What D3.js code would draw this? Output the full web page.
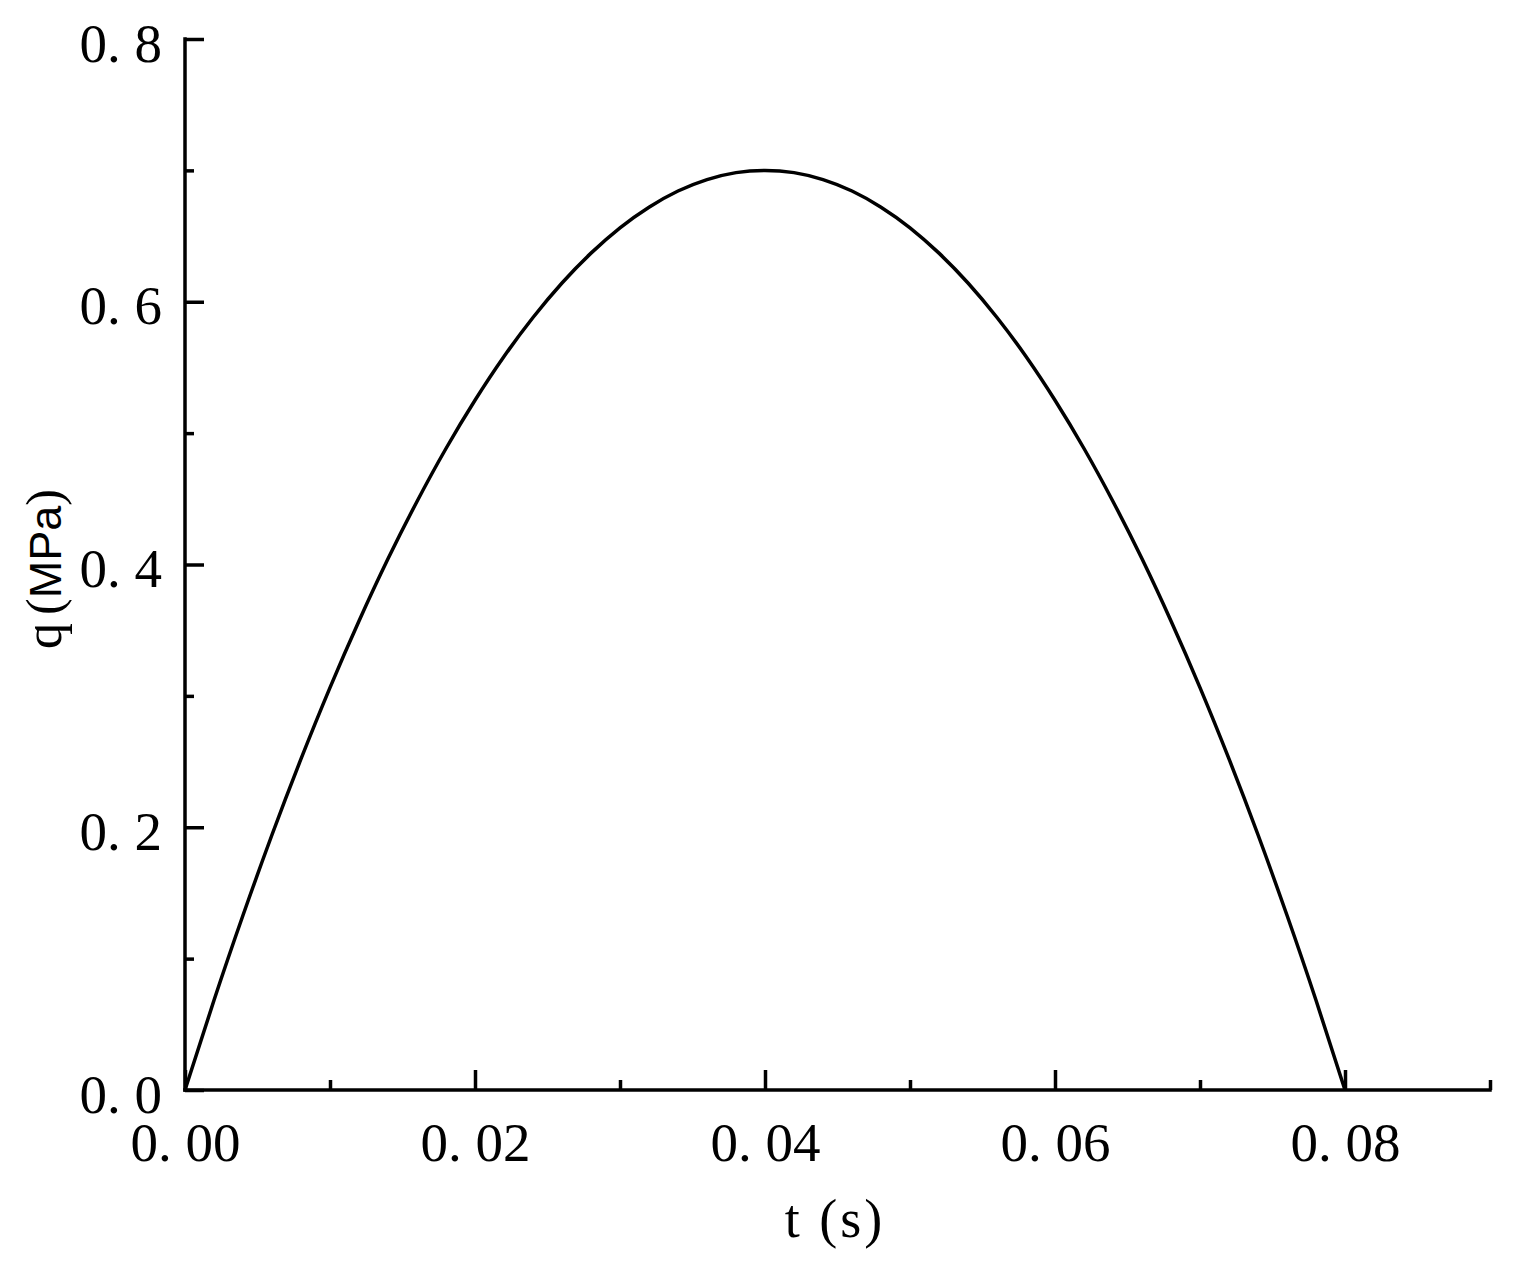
<!DOCTYPE html>
<html>
<head>
<meta charset="utf-8">
<script src="https://cdn.jsdelivr.net/npm/d3@7"></script>
<style>
  html, body { margin: 0; padding: 0; background: #fff; }
  svg { display: block; }
</style>
</head>
<body>
<svg id="chart" width="1518" height="1264"></svg>
<script>
// ---- data ----
const tValues = [0.000, 0.002, 0.004, 0.006, 0.008, 0.010, 0.012, 0.014, 0.016, 0.018,
                 0.020, 0.022, 0.024, 0.026, 0.028, 0.030, 0.032, 0.034, 0.036, 0.038,
                 0.040, 0.042, 0.044, 0.046, 0.048, 0.050, 0.052, 0.054, 0.056, 0.058,
                 0.060, 0.062, 0.064, 0.066, 0.068, 0.070, 0.072, 0.074, 0.076, 0.078, 0.080];
const qValues = [0.0000, 0.0683, 0.1330, 0.1943, 0.2520, 0.3063, 0.3570, 0.4043, 0.4480, 0.4883,
                 0.5250, 0.5583, 0.5880, 0.6143, 0.6370, 0.6563, 0.6720, 0.6843, 0.6930, 0.6983,
                 0.7000, 0.6983, 0.6930, 0.6843, 0.6720, 0.6563, 0.6370, 0.6143, 0.5880, 0.5583,
                 0.5250, 0.4883, 0.4480, 0.4043, 0.3570, 0.3063, 0.2520, 0.1943, 0.1330, 0.0683, 0.0000];
const xMajorTicks = [0.00, 0.02, 0.04, 0.06, 0.08];
const xMinorTicks = [0.01, 0.03, 0.05, 0.07, 0.09];
const yMajorTicks = [0.0, 0.2, 0.4, 0.6, 0.8];
const yMinorTicks = [0.1, 0.3, 0.5, 0.7];
const xTitle = "t (s)";
const yTitleParts = ["q", "(", "MPa", ")"];

// ---- layout ----
const svg = d3.select("#chart");
const mLeft = 185, mRight = 1490, mTop = 39, mBottom = 1090;
const x = d3.scaleLinear().domain([0, 0.09]).range([mLeft, mRight]);
const y = d3.scaleLinear().domain([0, 0.8]).range([mBottom, mTop]);
const lw = 3.5;

const serif = "'Liberation Serif', 'Times New Roman', serif";
const fmtX = v => d3.format(".2f")(v).replace(".", ". ");
const fmtY = v => d3.format(".1f")(v).replace(".", ". ");

// curve
const data = tValues.map((t, i) => ({ t, q: qValues[i] }));
svg.append("path")
  .datum(data)
  .attr("fill", "none")
  .attr("stroke", "#000")
  .attr("stroke-width", lw)
  .attr("stroke-linejoin", "round")
  .attr("d", d3.line().x(d => x(d.t)).y(d => y(d.q)).curve(d3.curveNatural));

// x axis: major ticks (inward / up)
const xAxisMajor = d3.axisBottom(x).tickValues(xMajorTicks).tickSize(-20).tickSizeOuter(0)
  .tickFormat(fmtX).tickPadding(0);
const gx = svg.append("g").attr("transform", `translate(0,${mBottom})`).call(xAxisMajor);
gx.select(".domain").attr("stroke", "#000").attr("stroke-width", lw)
  .attr("d", `M${mLeft - 1.75},0H${mRight + 1.75}`);
gx.selectAll(".tick line").attr("stroke", "#000").attr("stroke-width", lw);
gx.selectAll(".tick text")
  .attr("fill", "#000")
  .attr("y", 71).attr("dy", 0)
  .style("font-family", serif).style("font-size", "55px")
  .attr("text-anchor", "middle");

const xAxisMinor = d3.axisBottom(x).tickValues(xMinorTicks).tickSize(-10).tickFormat("");
const gxm = svg.append("g").attr("transform", `translate(0,${mBottom})`).call(xAxisMinor);
gxm.select(".domain").remove();
gxm.selectAll(".tick line").attr("stroke", "#000").attr("stroke-width", lw);

// y axis
const yAxisMajor = d3.axisLeft(y).tickValues(yMajorTicks).tickSize(-19).tickSizeOuter(0)
  .tickFormat(fmtY).tickPadding(0);
const gy = svg.append("g").attr("transform", `translate(${mLeft},0)`).call(yAxisMajor);
gy.select(".domain").attr("stroke", "#000").attr("stroke-width", lw)
  .attr("d", `M0,${mTop - 1.75}V${mBottom + 1.75}`);
gy.selectAll(".tick line").attr("stroke", "#000").attr("stroke-width", lw);
gy.selectAll(".tick text")
  .attr("fill", "#000")
  .attr("x", -23).attr("dy", 22)
  .style("font-family", serif).style("font-size", "55px")
  .attr("text-anchor", "end");

const yAxisMinor = d3.axisLeft(y).tickValues(yMinorTicks).tickSize(-9).tickFormat("");
const gym = svg.append("g").attr("transform", `translate(${mLeft},0)`).call(yAxisMinor);
gym.select(".domain").remove();
gym.selectAll(".tick line").attr("stroke", "#000").attr("stroke-width", lw);

// x title
svg.append("text")
  .attr("x", 835).attr("y", 1237)
  .attr("text-anchor", "middle")
  .style("font-family", serif).style("font-size", "54px")
  .style("letter-spacing", "3px")
  .attr("fill", "#000")
  .text(xTitle);

// y title (rotated)
const yt = svg.append("text")
  .attr("transform", "translate(61,569) rotate(-90)")
  .attr("text-anchor", "middle")
  .attr("fill", "#000");
yt.append("tspan").style("font-family", serif).style("font-size", "52px").text(yTitleParts[0]);
yt.append("tspan").attr("dx", 8).style("font-family", serif).style("font-size", "50px").text(yTitleParts[1]);
yt.append("tspan").style("font-family", "'Liberation Sans', Arial, sans-serif").style("font-size", "45px").text(yTitleParts[2]);
yt.append("tspan").style("font-family", serif).style("font-size", "50px").text(yTitleParts[3]);
</script>
</body>
</html>
